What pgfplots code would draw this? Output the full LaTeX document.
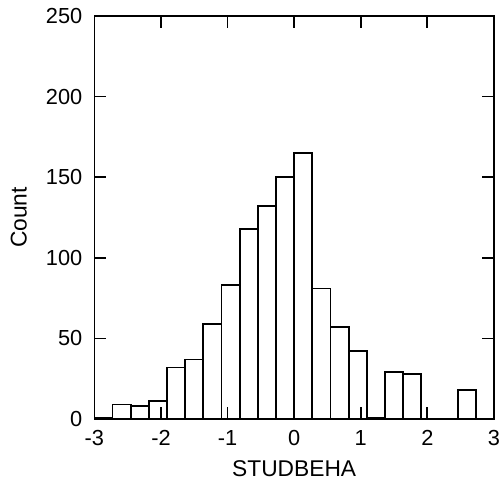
\documentclass[border=0pt]{standalone}
\usepackage{fontspec}
\setmainfont{Liberation Sans}
\usepackage{pgfplots}
\pgfplotsset{compat=1.18}
\begin{document}
\begin{tikzpicture}
\begin{axis}[
  scale only axis,
  width=402bp, height=405.7bp,
  xmin=-3, xmax=3, ymin=0, ymax=250,
  xtick={-3,-2,-1,0,1,2,3},
  ytick={0,50,100,150,200,250},
  tick align=inside,
  major tick length=12bp,
  axis line style={line width=1.8bp},
  every tick/.style={line width=1.8bp, black},
  /pgf/number format/assume math mode=true,
  tick label style={font=\fontsize{22}{24}\selectfont, inner sep=0pt},
  xticklabel style={anchor=center, yshift=-19bp},
  yticklabel style={anchor=east, xshift=-12bp},
  xlabel={STUDBEHA},
  ylabel={Count},
  label style={font=\fontsize{23}{25}\selectfont, inner sep=0pt},
  xlabel style={at={(rel axis cs:0.5,0)}, anchor=center, yshift=-50bp},
  ylabel style={at={(rel axis cs:0,0.5)}, anchor=center, yshift=76bp},
  clip=false,
]
\addplot[ybar interval, draw=black, fill=none, line width=1.8bp] coordinates {
(-3,1) (-2.7273,9) (-2.4545,8) (-2.1818,11) (-1.9091,32) (-1.6364,37)
(-1.3636,59) (-1.0909,83) (-0.8182,118) (-0.5455,132) (-0.2727,150)
(0,165) (0.2727,81) (0.5455,57) (0.8182,42) (1.0909,1) (1.3636,29)
(1.6364,28) (1.9091,0) (2.1818,0) (2.4545,18) (2.7273,0) (3,0)
};
\end{axis}
\path (-95bp,-63.3bp) rectangle (405bp,421.7bp);
\end{tikzpicture}
\end{document}
